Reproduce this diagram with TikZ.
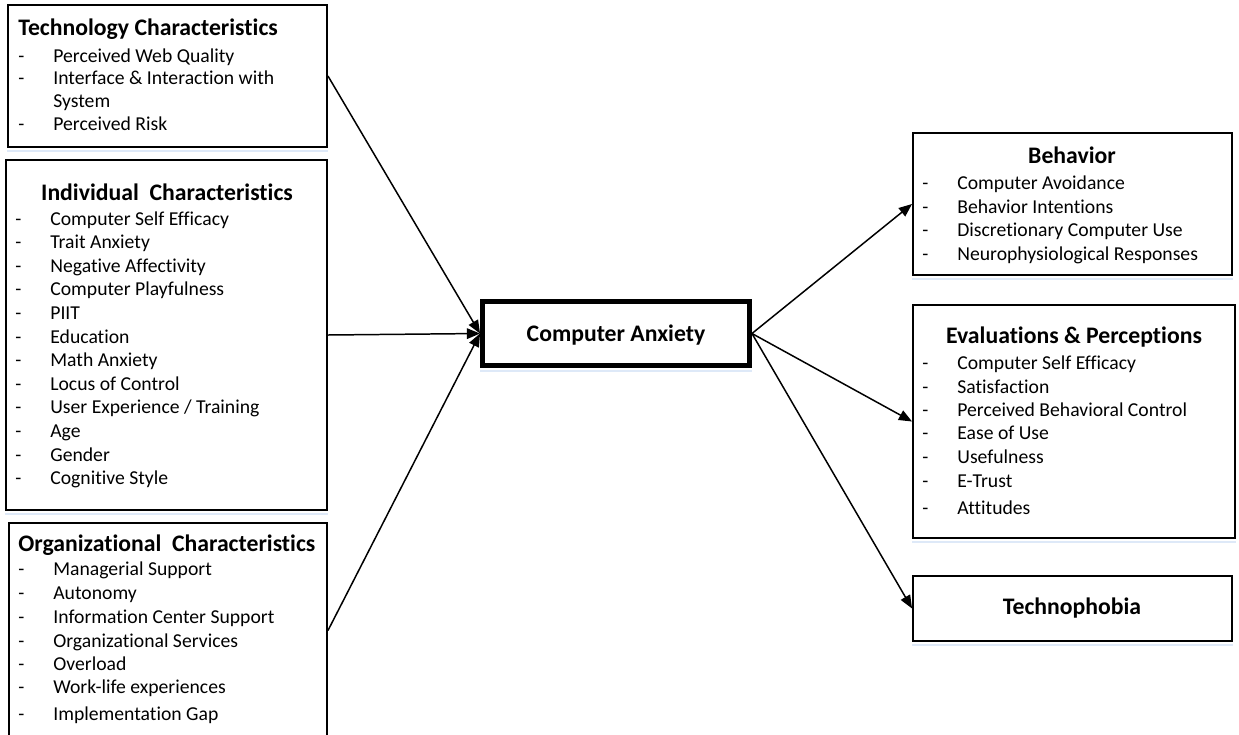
\documentclass[tikz,border=0pt]{standalone}
\usepackage{fontspec}
\setmainfont{Carlito}[Ligatures=NoCommon]
\usetikzlibrary{arrows.meta,fit}

% one list of bulleted entries: #1 name prefix, #2 x of the hyphen, #3 x of the text, #4 y/text pairs
\newcommand\entrylist[4]{%
  \foreach \yy/\txt [count=\k] in {#4}{%
    \node[entry] (#1-d\k) at (#2,\yy) {-};
    \node[entry] (#1-\k) at (#3,\yy) {\txt};
  }}
% faint tint just under the lower edge of a box
\newcommand\undertint[1]{%
  \draw[tint] ([yshift=-1.6pt]#1.south west) -- ([yshift=-1.6pt]#1.south east);}

\begin{document}
\begin{tikzpicture}[x=0.02cm,y=-0.02cm,
  box/.style={draw,line width=1.1pt,inner sep=0pt},
  core/.style={draw,line width=2.8pt,inner sep=0pt},
  head/.style={font=\fontsize{13.5}{15}\selectfont\bfseries,inner sep=0pt},
  entry/.style={font=\fontsize{11.2}{13}\selectfont,inner sep=0pt,anchor=base west},
  tint/.style={draw={rgb,255:red,222;green,233;blue,248},line width=1.3pt},
  link/.style={line width=0.85pt,-{Triangle[length=7.5pt,width=6pt]}}]
\useasboundingbox (0,0) rectangle (1239,734);

% ---- left column: antecedents
\node[box,fit={(8,5)(327,147)}] (tech) {};
\undertint{tech}
\node[head,anchor=base west] (tech-h) at (18,35) {Technology Characteristics};
\node[entry] (tech-d1) at (18,62) {-};
\node[entry] (tech-1) at (53,62) {Perceived Web Quality};
\node[entry] (tech-d2) at (18,84) {-};
\node[entry] (tech-2) at (53,84) {Interface \& Interaction with};
\node[entry] (tech-2b) at (53,107) {System};
\node[entry] (tech-d3) at (18,130) {-};
\node[entry] (tech-3) at (53,130) {Perceived Risk};

\node[box,fit={(6,160)(327,510)}] (ind) {};
\undertint{ind}
\node[head,anchor=base] (ind-h) at (167,200) {Individual\ \ Characteristics};
\entrylist{ind}{15}{50}{225/Computer Self Efficacy,248.6/Trait Anxiety,272.2/Negative Affectivity,295.8/Computer Playfulness,319.4/PIIT,343/Education,366.6/Math Anxiety,390.2/Locus of Control,413.8/{User Experience / Training},437.4/Age,461/Gender,484.6/Cognitive Style}

\node[box,fit={(9,523)(327,738)}] (org) {};
\node[head,anchor=base west] (org-h) at (18,551) {Organizational\ \ Characteristics};
\entrylist{org}{18}{53}{575/Managerial Support,599/Autonomy,623/Information Center Support,647/Organizational Services,670/Overload,693/Work-life experiences,720/Implementation Gap}

% ---- centre
\node[core,fit={(482.5,301.5)(749.5,365.5)}] (ca) {};
\undertint{ca}
\node[head,anchor=base] (ca-t) at (616,341) {Computer Anxiety};

% ---- right column: outcomes
\node[box,fit={(913,133)(1232,275)}] (beh) {};
\undertint{beh}
\node[head,anchor=base] (beh-h) at (1072,163) {Behavior};
\entrylist{beh}{922}{957}{189/Computer Avoidance,213/Behavior Intentions,236/Discretionary Computer Use,260/Neurophysiological Responses}

\node[box,fit={(913,305)(1235,538)}] (eval) {};
\undertint{eval}
\node[head,anchor=base] (eval-h) at (1074,343) {Evaluations \& Perceptions};
\entrylist{eval}{922}{957}{369/Computer Self Efficacy,393/Satisfaction,416/Perceived Behavioral Control,439/Ease of Use,463/Usefulness,487/E-Trust,514/Attitudes}

\node[box,fit={(913,576)(1232,641)}] (tphob) {};
\undertint{tphob}
\node[head,anchor=base] (tphob-t) at (1072,614) {Technophobia};

% ---- connectors
\draw[link] (tech.east) -- (ca.west);
\draw[link] (ind.east) -- (ca.west);
\draw[link] (org.east) -- (ca.west);
\draw[link] (ca.east) -- (beh.west);
\draw[link] (ca.east) -- (eval.west);
\draw[link] (ca.east) -- (tphob.west);
\end{tikzpicture}
\end{document}
